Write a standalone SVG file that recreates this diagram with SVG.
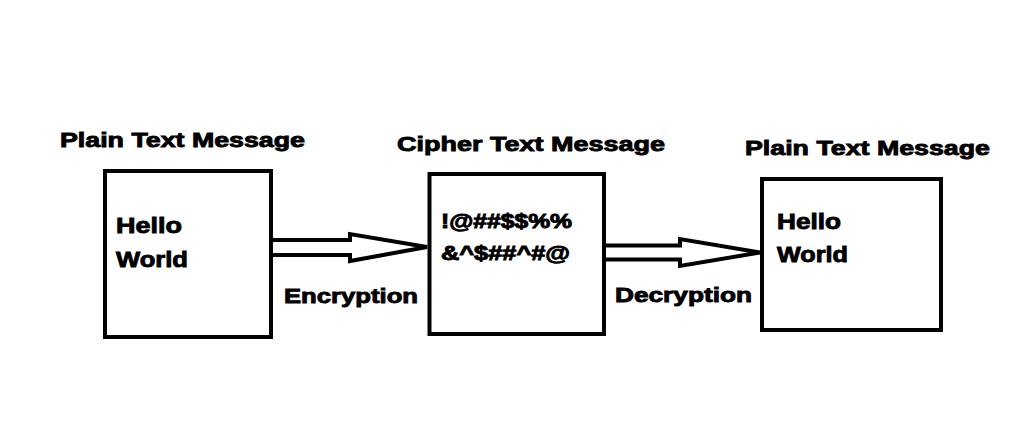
<svg xmlns="http://www.w3.org/2000/svg" width="1024" height="428" viewBox="0 0 1024 428">
<style>
.t{font-family:"Liberation Sans",Arial,sans-serif;font-weight:bold;fill:#000;stroke:#000;stroke-width:0.9px}
.box{fill:#fff;stroke:#000;stroke-width:4}
.arrow{fill:#fff;stroke:#000;stroke-width:4;stroke-linejoin:miter}
</style>
<rect width="1024" height="428" fill="#fff"/>
<g id="connectors">
<path class="arrow" d="M271,240 L350,240 L350,234 L427,247 L350,261 L350,255 L271,255"/>
<path class="arrow" d="M604,245.5 L680,245.5 L680,239 L760,252.5 L680,266 L680,259.5 L604,259.5"/>
<text class="t" x="284" y="303" font-size="21" textLength="134" lengthAdjust="spacingAndGlyphs">Encryption</text>
<text class="t" x="615" y="302" font-size="21" textLength="137" lengthAdjust="spacingAndGlyphs">Decryption</text>
</g>
<g id="plain1">
<text class="t" x="60" y="147" font-size="21" textLength="245" lengthAdjust="spacingAndGlyphs">Plain Text Message</text>
<rect class="box" x="105" y="171" width="166" height="166"/>
<text class="t" x="116" y="233" font-size="22.5" textLength="66" lengthAdjust="spacingAndGlyphs">Hello</text>
<text class="t" x="116" y="267" font-size="22.5" textLength="72" lengthAdjust="spacingAndGlyphs">World</text>
</g>
<g id="cipher">
<text class="t" x="397" y="151" font-size="21" textLength="268" lengthAdjust="spacingAndGlyphs">Cipher Text Message</text>
<rect class="box" x="429.5" y="174" width="174.5" height="160"/>
<text class="t" x="441" y="228" font-size="19.5" textLength="131" lengthAdjust="spacingAndGlyphs">!@##$$%%</text>
<text class="t" x="441" y="260" font-size="19.5" textLength="129" lengthAdjust="spacingAndGlyphs">&amp;^$##^#@</text>
</g>
<g id="plain2">
<text class="t" x="745" y="155" font-size="21" textLength="245" lengthAdjust="spacingAndGlyphs">Plain Text Message</text>
<rect class="box" x="762" y="179" width="179" height="151"/>
<text class="t" x="777" y="229" font-size="22.5" textLength="64" lengthAdjust="spacingAndGlyphs">Hello</text>
<text class="t" x="777" y="262" font-size="22.5" textLength="71" lengthAdjust="spacingAndGlyphs">World</text>
</g>
</svg>
